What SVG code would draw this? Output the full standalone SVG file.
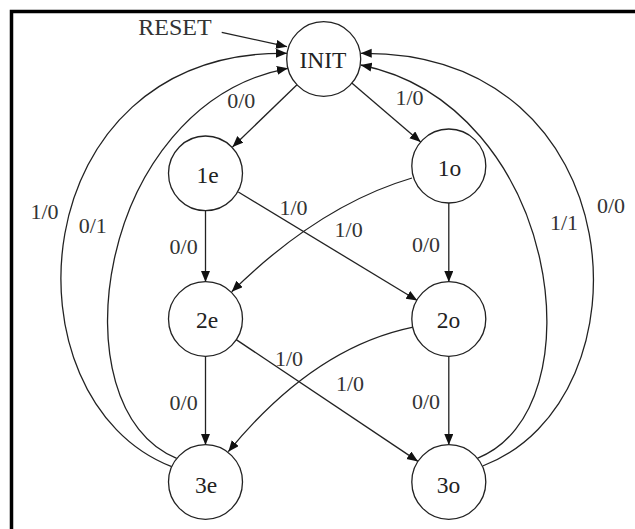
<svg xmlns="http://www.w3.org/2000/svg" width="635" height="529" viewBox="0 0 635 529">
<defs>
<marker id="arr" markerUnits="userSpaceOnUse" markerWidth="12" markerHeight="10" refX="11" refY="4.5" orient="auto">
<path d="M0,0 L11,4.5 L0,9 z" fill="#111"/>
</marker>
<style>
.node ellipse{fill:#fff;stroke:#222;stroke-width:1.3}
.node text{font-family:"Liberation Serif","Times New Roman",serif;font-size:23.5px;fill:#222;text-anchor:middle}
.edge{fill:none;stroke:#222;stroke-width:1.3;marker-end:url(#arr)}
.lbl{font-family:"Liberation Serif","Times New Roman",serif;font-size:22px;fill:#333;text-anchor:middle}
</style>
</defs>
<rect width="635" height="529" fill="#fff"/>
<rect x="11.5" y="11.5" width="700" height="600" fill="none" stroke="#000" stroke-width="3.5"/>
<g id="connectors">
<path class="edge" d="M221.7,32.3 L287,46.7"/>
<path class="edge" d="M297,84.7 L232.5,147"/>
<path class="edge" d="M351.8,83 L420.7,142"/>
<path class="edge" d="M205.5,210.5 L205.5,282"/>
<path class="edge" d="M448.8,202.7 L448.8,282"/>
<path class="edge" d="M238.3,192 L417.3,300.5"/>
<path class="edge" d="M412,178 Q320,205 231.7,291.7"/>
<path class="edge" d="M205.5,356 L205.5,445"/>
<path class="edge" d="M448.8,356 L448.8,445"/>
<path class="edge" d="M236.2,339.6 L418,461.4"/>
<path class="edge" d="M412,327.3 Q313,348 228.3,451.7"/>
<path class="edge" d="M171.7,466.7 C0,400 20,50 287,53.3"/>
<path class="edge" d="M176.7,458.3 C55,410 95,105 287.9,68.3"/>
<path class="edge" d="M482.7,466 C655,400 635,50 360.7,53.3"/>
<path class="edge" d="M477.3,458.3 C600,410 560,105 360.7,65"/>
</g>
<g id="labels">
<text class="lbl" x="175" y="34.5" style="font-size:24px">RESET</text>
<text class="lbl" x="241.3" y="108.3">0/0</text>
<text class="lbl" x="409.5" y="105">1/0</text>
<text class="lbl" x="44.5" y="219">1/0</text>
<text class="lbl" x="92.7" y="232.5">0/1</text>
<text class="lbl" x="293.5" y="215">1/0</text>
<text class="lbl" x="348.6" y="236.5">1/0</text>
<text class="lbl" x="183.6" y="254.2">0/0</text>
<text class="lbl" x="426" y="251.5">0/0</text>
<text class="lbl" x="564" y="230">1/1</text>
<text class="lbl" x="611" y="213">0/0</text>
<text class="lbl" x="289" y="366">1/0</text>
<text class="lbl" x="350" y="391">1/0</text>
<text class="lbl" x="183.6" y="410">0/0</text>
<text class="lbl" x="426" y="409">0/0</text>
</g>
<g id="INIT" class="node"><ellipse cx="323.7" cy="59" rx="37" ry="37.3"/><text x="323" y="68">INIT</text></g>
<g id="n1e" class="node"><ellipse cx="205.5" cy="173.3" rx="37" ry="37.3"/><text x="207.5" y="182.5">1e</text></g>
<g id="n1o" class="node"><ellipse cx="448.8" cy="166" rx="37" ry="37"/><text x="449.5" y="175.5">1o</text></g>
<g id="n2e" class="node"><ellipse cx="205.5" cy="319" rx="37" ry="37.3"/><text x="207" y="328">2e</text></g>
<g id="n2o" class="node"><ellipse cx="448.8" cy="319" rx="37" ry="37.3"/><text x="448.5" y="328">2o</text></g>
<g id="n3e" class="node"><ellipse cx="205.5" cy="482" rx="37" ry="37.3"/><text x="206" y="492.5">3e</text></g>
<g id="n3o" class="node"><ellipse cx="448.8" cy="482" rx="37" ry="37.3"/><text x="448.5" y="492.5">3o</text></g>
</svg>
